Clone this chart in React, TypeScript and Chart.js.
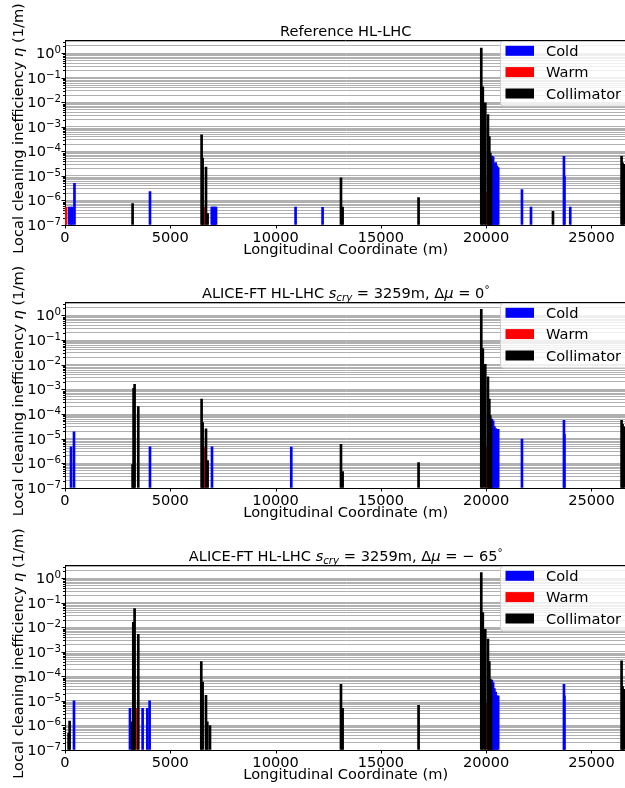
import React, { useEffect, useRef } from 'react';
import { Chart, registerables } from 'chart.js';
Chart.register(...registerables);

const FONT = '"DejaVu Sans", sans-serif';
const X_MAX = 26659;
const X_TICKS = [0, 5000, 10000, 15000, 20000, 25000];
const Y_MIN = 1e-7;
const Y_MAX = 3.5;
const DECADES = [-7, -6, -5, -4, -3, -2, -1, 0];
const LEGEND_LABELS = ['Cold', 'Warm', 'Collimator'];
const COLORS = ['#0000ff', '#ff0000', '#000000'];
const X_TITLE = 'Longitudinal Coordinate (m)';

// Panel 1: Reference HL-LHC
const refColdS = [200, 280, 350, 450, 4036, 6970, 7020, 7070, 7120, 7170, 10950, 12232, 20270, 20330, 20390, 20450, 20510, 20570, 21700, 22128, 23694, 23716, 23993];
const refColdEta = [5.4e-7, 5.4e-7, 5.4e-7, 5.0e-6, 2.3e-6, 5.4e-7, 5.4e-7, 5.4e-7, 5.4e-7, 5.4e-7, 5.4e-7, 5.2e-7, 6.5e-5, 6.0e-5, 3.2e-5, 3.5e-5, 2.6e-5, 2.2e-5, 2.8e-6, 5.4e-7, 6.3e-5, 9.6e-6, 5.4e-7];
const refWarmS = [50, 6580, 6620, 20020];
const refWarmEta = [5.4e-7, 5.4e-7, 5.4e-7, 2.1e-6];
const refCollS = [3210, 6487, 6535, 6695, 6772, 13105, 13183, 16790, 19768, 19840, 19957, 20085, 20150, 20195, 20230, 23172, 26430, 26477, 26560];
const refCollEta = [7.4e-7, 4.8e-4, 5.4e-5, 2.3e-5, 2.9e-7, 8.3e-6, 5.4e-7, 1.3e-6, 1.65, 0.043, 0.0096, 3.2e-3, 4.0e-4, 8.6e-5, 5.4e-5, 3.6e-7, 6.3e-5, 3.4e-5, 3.0e-5];

// Panel 2: ALICE-FT, dmu = 0
const mu0ColdS = [285, 427, 4036, 6980, 10745, 20270, 20330, 20390, 20450, 20510, 20570, 21700, 23694, 23716];
const mu0ColdEta = [4.7e-6, 1.9e-5, 4.7e-6, 4.7e-6, 4.6e-6, 6.3e-5, 5.3e-5, 3.1e-5, 2.6e-5, 2.4e-5, 2.4e-5, 9.6e-6, 5.6e-5, 1.5e-5];
const mu0WarmS = [6580, 6620, 20020];
const mu0WarmEta = [4.3e-6, 4.3e-6, 4.7e-6];
const mu0CollS = [3210, 3257, 3305, 3480, 6487, 6535, 6695, 6772, 13105, 13183, 16790, 19768, 19840, 19957, 20085, 20150, 20195, 20230, 26430, 26477, 26560];
const mu0CollEta = [8.9e-7, 1.1e-3, 1.6e-3, 2.0e-4, 4.0e-4, 4.5e-5, 2.5e-5, 1.3e-6, 5.9e-6, 4.6e-7, 1.07e-6, 1.75, 0.045, 0.0104, 3.2e-3, 4.0e-4, 8.7e-5, 5.0e-5, 5.6e-5, 3.8e-5, 3.0e-5];

// Panel 3: ALICE-FT, dmu = -65
const mu65ColdS = [427, 3086, 3686, 3908, 4018, 20270, 20330, 20390, 20450, 20510, 20570, 23694, 23716];
const mu65ColdEta = [1.0e-5, 5.0e-6, 5.0e-6, 5.0e-6, 1.0e-5, 7.1e-5, 5.6e-5, 3.2e-5, 2.3e-5, 1.6e-5, 1.6e-5, 4.8e-5, 1.6e-5];
const mu65WarmS = [3400, 20020];
const mu65WarmEta = [5.0e-6, 8.0e-6];
const mu65CollS = [171, 219, 3196, 3243, 3305, 3480, 6472, 6535, 6695, 6757, 6885, 13105, 13183, 16790, 19768, 19840, 19957, 20085, 20150, 20195, 20230, 26430, 26477, 26560];
const mu65CollEta = [4.8e-7, 1.5e-6, 1.4e-6, 0.0159, 0.059, 5.2e-3, 4.0e-4, 5.9e-5, 1.7e-5, 1.4e-6, 1.0e-6, 4.8e-5, 5.0e-6, 6.6e-6, 1.7, 0.04, 0.0083, 3.3e-3, 4.0e-4, 7.6e-5, 5.0e-5, 4.3e-4, 3.9e-5, 3.0e-5];

type Seg = { t: string; it?: boolean; sub?: boolean; sup?: boolean };

const TITLE_REF: Seg[] = [{ t: 'Reference HL-LHC' }];
const TITLE_MU0: Seg[] = [
  { t: 'ALICE-FT HL-LHC ' }, { t: 's', it: true }, { t: 'cry', it: true, sub: true },
  { t: ' = 3259m, Δ' }, { t: 'μ', it: true }, { t: ' = 0' }, { t: '°', sup: true },
];
const TITLE_MU65: Seg[] = [
  { t: 'ALICE-FT HL-LHC ' }, { t: 's', it: true }, { t: 'cry', it: true, sub: true },
  { t: ' = 3259m, Δ' }, { t: 'μ', it: true }, { t: ' = − 65' }, { t: '°', sup: true },
];
const Y_TITLE: Seg[] = [{ t: 'Local cleaning inefficiency ' }, { t: 'η', it: true }, { t: ' (1/m)' }];

const CANVAS_W = 640;
const CANVAS_H = 262;
const AREA_TOP = 40;
const AREA_LEFT = 65;
const AREA_RIGHT = 626.4;
const FS = 14.6;

const pts = (s: number[], e: number[]) => s.map((x, i) => ({ x, y: e[i] }));

const PANELS = [
  { top: 0, areaH: 185, title: TITLE_REF, cold: pts(refColdS, refColdEta), warm: pts(refWarmS, refWarmEta), coll: pts(refCollS, refCollEta) },
  { top: 262, areaH: 186, title: TITLE_MU0, cold: pts(mu0ColdS, mu0ColdEta), warm: pts(mu0WarmS, mu0WarmEta), coll: pts(mu0CollS, mu0CollEta) },
  { top: 525, areaH: 185, title: TITLE_MU65, cold: pts(mu65ColdS, mu65ColdEta), warm: pts(mu65WarmS, mu65WarmEta), coll: pts(mu65CollS, mu65CollEta) },
];

function yTickValues() {
  const v: number[] = [];
  for (let e = -7; e <= -1; e++) for (let k = 1; k <= 9; k++) v.push(k * Math.pow(10, e));
  v.push(1, 2, 3);
  return v;
}

function segFont(s: Seg, size: number) {
  const sz = s.sub || s.sup ? size * 0.7 : size;
  return `${s.it ? 'italic ' : ''}${sz}px ${FONT}`;
}

function drawRich(ctx: CanvasRenderingContext2D, segs: Seg[], x: number, y: number, align: 'left' | 'center' | 'right', size: number) {
  const widths = segs.map((s) => { ctx.font = segFont(s, size); return ctx.measureText(s.t).width; });
  const total = widths.reduce((a, b) => a + b, 0);
  let cx = align === 'left' ? x : align === 'center' ? x - total / 2 : x - total;
  ctx.textAlign = 'left';
  ctx.textBaseline = 'alphabetic';
  segs.forEach((s, i) => {
    ctx.font = segFont(s, size);
    const dy = s.sub ? size * 0.22 : s.sup ? -size * 0.36 : 0;
    ctx.fillText(s.t, cx, y + dy);
    cx += widths[i];
  });
}

function isPow10(v: number) {
  const l = Math.log10(v);
  return Math.abs(l - Math.round(l)) < 1e-9;
}

function makeDecor(title: Seg[]) {
  return {
    id: 'decor',
    afterDraw(chart: any) {
      const ctx: CanvasRenderingContext2D = chart.ctx;
      const a = chart.chartArea;
      const ys = chart.scales.y;
      const xs = chart.scales.x;
      ctx.save();
      ctx.fillStyle = '#000';
      ctx.strokeStyle = '#000';
      ctx.lineWidth = 1;
      // top spine
      ctx.beginPath();
      ctx.moveTo(a.left, Math.round(a.top) + 0.5);
      ctx.lineTo(a.right, Math.round(a.top) + 0.5);
      ctx.stroke();
      // y tick marks
      for (const t of ys.ticks) {
        const y = Math.round(ys.getPixelForValue(t.value)) + 0.5;
        const len = isPow10(t.value) ? 3.5 : 2;
        ctx.beginPath();
        ctx.moveTo(a.left - len, y);
        ctx.lineTo(a.left, y);
        ctx.stroke();
      }
      // y tick labels
      for (const e of DECADES) {
        const y = ys.getPixelForValue(Math.pow(10, e));
        const sup = e === 0 ? '0' : '−' + Math.abs(e);
        drawRich(ctx, [{ t: '10' }, { t: sup, sup: true }], a.left - 4, y + 5, 'right', FS);
      }
      // x tick marks & labels
      ctx.font = `${FS}px ${FONT}`;
      ctx.textAlign = 'center';
      for (const v of X_TICKS) {
        const x = Math.round(xs.getPixelForValue(v)) + 0.5;
        ctx.beginPath();
        ctx.moveTo(x, a.bottom);
        ctx.lineTo(x, a.bottom + 3.5);
        ctx.stroke();
        ctx.fillText(String(v), xs.getPixelForValue(v), a.bottom + 17);
      }
      // x title
      ctx.textAlign = 'center';
      ctx.fillText(X_TITLE, (a.left + a.right) / 2, a.bottom + 28.5);
      // y title
      ctx.save();
      ctx.translate(22.5, (a.top + a.bottom) / 2 - 4);
      ctx.rotate(-Math.PI / 2);
      drawRich(ctx, Y_TITLE, 0, 0, 'center', FS);
      ctx.restore();
      // title
      drawRich(ctx, title, (a.left + a.right) / 2, a.top - 4, 'center', FS);
      // legend
      const lx = 500.5, ly = a.top + 1.5, lw = 140, lh = 64.5;
      ctx.beginPath();
      (ctx as any).roundRect(lx, ly, lw, lh, 3);
      ctx.fillStyle = 'rgba(255,255,255,0.8)';
      ctx.fill();
      ctx.strokeStyle = '#cccccc';
      ctx.stroke();
      const rows = [10.8, 32.1, 53.5];
      LEGEND_LABELS.forEach((lab, i) => {
        const cy = a.top + rows[i];
        ctx.fillStyle = COLORS[i];
        ctx.fillRect(505.5, cy - 5, 28.5, 10);
        ctx.fillStyle = '#000';
        ctx.font = `${FS}px ${FONT}`;
        ctx.textAlign = 'left';
        ctx.fillText(lab, 546, cy + 5.3);
      });
      ctx.restore();
    },
  };
}

function Panel({ cfg }: { cfg: (typeof PANELS)[number] }) {
  const ref = useRef<HTMLCanvasElement | null>(null);
  useEffect(() => {
    if (!ref.current) return;
    const yt = yTickValues();
    const barOpts = { grouped: false, barThickness: 2, base: Y_MIN, borderWidth: 0 };
    const chart = new Chart(ref.current, {
      type: 'bar',
      data: {
        datasets: [
          { label: 'Collimator', data: cfg.coll, backgroundColor: COLORS[2], order: 0, ...barOpts } as any,
          { label: 'Warm', data: cfg.warm, backgroundColor: COLORS[1], order: 1, ...barOpts } as any,
          { label: 'Cold', data: cfg.cold, backgroundColor: COLORS[0], order: 2, ...barOpts } as any,
        ],
      },
      options: {
        responsive: false,
        animation: false,
        layout: { padding: { top: AREA_TOP, left: 0, right: CANVAS_W - AREA_RIGHT, bottom: 0 } },
        scales: {
          x: {
            type: 'linear', min: 0, max: X_MAX, offset: false,
            grid: { display: false, drawTicks: false, offset: false },
            border: { display: true, color: '#000', width: 1 },
            ticks: { display: false },
            afterBuildTicks: (s: any) => { s.ticks = X_TICKS.map((v) => ({ value: v })); },
            afterFit: (s: any) => { s.height = CANVAS_H - AREA_TOP - cfg.areaH; },
          },
          y: {
            type: 'logarithmic', min: Y_MIN, max: Y_MAX,
            grid: { color: '#b0b0b0', lineWidth: 1, drawTicks: false },
            border: { display: true, color: '#000', width: 1 },
            ticks: { display: false },
            afterBuildTicks: (s: any) => { s.ticks = yt.map((v) => ({ value: v })); },
            afterFit: (s: any) => { s.width = AREA_LEFT; },
          },
        } as any,
        plugins: { legend: { display: false }, tooltip: { enabled: false }, title: { display: false } },
      },
      plugins: [makeDecor(cfg.title)],
    });
    return () => chart.destroy();
  }, [cfg]);
  return (
    <canvas
      ref={ref}
      width={CANVAS_W}
      height={CANVAS_H}
      style={{ position: 'absolute', left: 0, top: cfg.top, width: CANVAS_W, height: CANVAS_H }}
    />
  );
}

export default function App() {
  return (
    <div style={{ position: 'absolute', left: 0, top: 0, width: 625, height: 788, overflow: 'hidden', background: '#fff' }}>
      {PANELS.map((p, i) => (
        <Panel key={i} cfg={p} />
      ))}
    </div>
  );
}
